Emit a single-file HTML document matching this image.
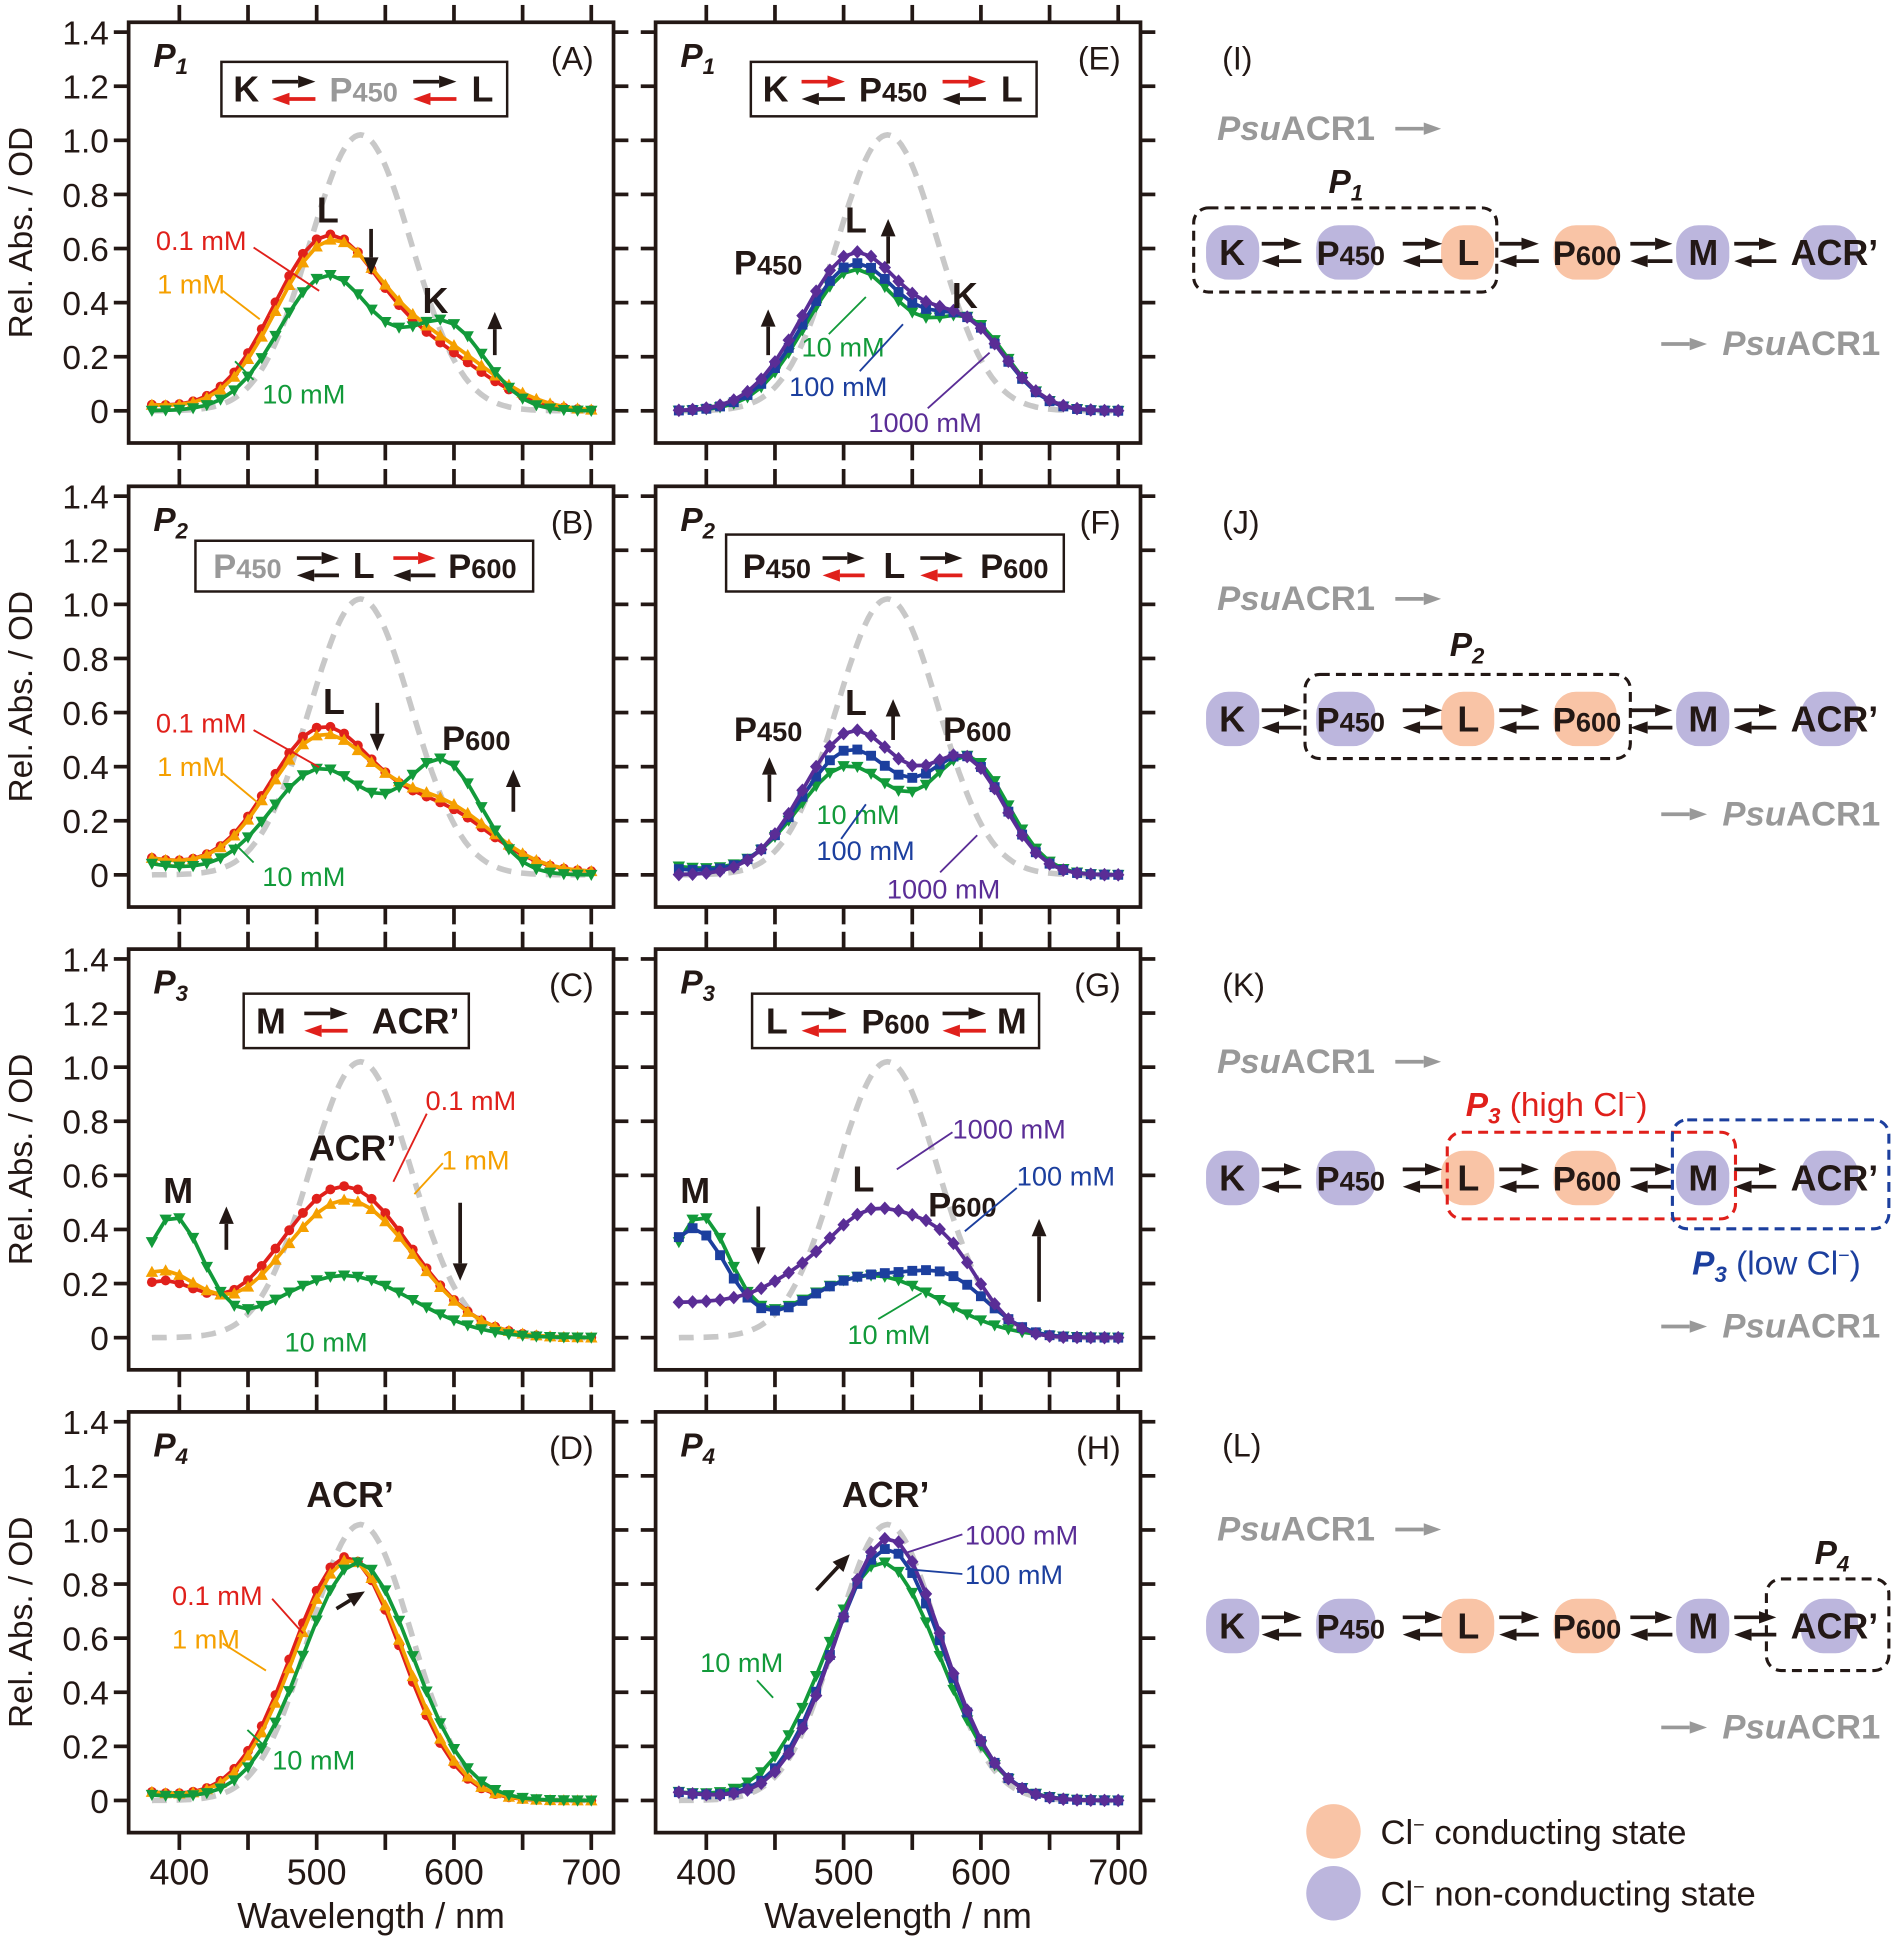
<!DOCTYPE html>
<html><head><meta charset="utf-8">
<style>
html,body{margin:0;padding:0;background:#fff;}
svg{display:block;font-family:"Liberation Sans",Arial,sans-serif;}
</style></head>
<body>
<svg id="s" xmlns="http://www.w3.org/2000/svg" width="1900" height="1944" viewBox="0 0 1536 1571" preserveAspectRatio="none"></svg>
<script>
const S=document.getElementById('s');let out='';
const C={r:'#e0201b',o:'#f5a000',g:'#129a3a',b:'#1c3f9e',p:'#5a2d96',gr:'#c8c8c8'};
function g(a,m,s,w){return a*Math.exp(-((w-m)*(w-m))/(2*s*s));}
function panel(px,py){
 const xm=w=>px+41+(w-400)*1.11, ym=v=>py+314-v*218.6;
 out+=`<rect x="${px}" y="${py}" width="392" height="340" fill="none" stroke="#231815" stroke-width="3"/>`;
 for(let w=400;w<=700;w+=50){const x=xm(w);out+=`<line x1="${x}" y1="${py-14}" x2="${x}" y2="${py}" stroke="#231815" stroke-width="3"/><line x1="${x}" y1="${py+340}" x2="${x}" y2="${py+354}" stroke="#231815" stroke-width="3"/>`;}
 for(let v=0;v<=1.41;v+=0.2){const y=ym(v);out+=`<line x1="${px-12}" y1="${y}" x2="${px}" y2="${y}" stroke="#231815" stroke-width="3"/><line x1="${px+392}" y1="${y}" x2="${px+404}" y2="${y}" stroke="#231815" stroke-width="3"/>`;
  if(px<200)out+=`<text x="88" y="${y+10}" font-size="27" text-anchor="end" fill="#231815">${v<0.01?'0':v.toFixed(1)}</text>`;}
 if(px<200)out+=`<text transform="translate(26,${py+170}) rotate(-90)" font-size="27" text-anchor="middle" fill="#231815">Rel. Abs. / OD</text>`;
 return {xm,ym};
}
function series(P,f,col,mk,dash){
 let d='',m='';
 if(dash){for(let w=380;w<=700;w+=2){d+=(w==380?'M':'L')+P.xm(w).toFixed(1)+','+P.ym(f(w)).toFixed(1);}
  out+=`<path d="${d}" fill="none" stroke="${C.gr}" stroke-width="4.5" stroke-dasharray="12,8"/>`;return;}
 for(let w=380;w<=700;w+=10){const x=P.xm(w),y=P.ym(f(w));d+=(w==380?'M':'L')+x.toFixed(1)+','+y.toFixed(1);
  if(mk=='c')m+=`<circle cx="${x}" cy="${y}" r="4"/>`;
  else if(mk=='u')m+=`<polygon points="${x},${y-5} ${x-5},${y+4} ${x+5},${y+4}"/>`;
  else if(mk=='d')m+=`<polygon points="${x},${y+5} ${x-5},${y-4} ${x+5},${y-4}"/>`;
  else if(mk=='s')m+=`<rect x="${x-4}" y="${y-4}" width="8" height="8"/>`;
  else m+=`<polygon points="${x},${y-5.5} ${x+5},${y} ${x},${y+5.5} ${x-5},${y}"/>`;}
 out+=`<path d="${d}" fill="none" stroke="${col}" stroke-width="3"/><g fill="${col}">${m}</g>`;
}
const ref=w=>g(1.02,532,37,w);
function t(x,y,s,sz,col,extra){out+=`<text x="${x}" y="${y}" font-size="${sz||24}" fill="${col||'#231815'}" ${extra||''}>${s}</text>`;}
function arr(x1,y1,x2,y2,col,hw){col=col||'#231815';hw=hw||6;const a=Math.atan2(y2-y1,x2-x1),L=14;
 const bx=x2-L*Math.cos(a),by=y2-L*Math.sin(a);
 out+=`<line x1="${x1}" y1="${y1}" x2="${bx}" y2="${by}" stroke="${col}" stroke-width="3"/><polygon fill="${col}" points="${x2},${y2} ${bx+hw*Math.sin(a)},${by-hw*Math.cos(a)} ${bx-hw*Math.sin(a)},${by+hw*Math.cos(a)}"/>`;}
function dbl(x1,x2,y,ct,cb){arr(x1,y-7,x2,y-7,ct,5);arr(x2,y+7,x1,y+7,cb,5);}
function lead(x1,y1,x2,y2,col){out+=`<line x1="${x1}" y1="${y1}" x2="${x2}" y2="${y2}" stroke="${col}" stroke-width="1.5"/>`;}
function pl(x,y,col,sub){t(x,y,`<tspan font-weight="bold" font-style="italic">P</tspan><tspan font-size="18" font-weight="bold" font-style="italic" dy="6">${sub}</tspan>`,27,col);}
function Pn(x,y,n,col){return `<text x="${x}" y="${y}" font-size="28" font-weight="bold" fill="${col||'#231815'}" text-anchor="middle">P<tspan font-size="22">${n}</tspan></text>`;}
const cols=[104,530],rows=[18,393,767,1141],pan=['ABCD','EFGH'];
const Ps=[];
for(let c=0;c<2;c++)for(let r=0;r<4;r++){const P=panel(cols[c],rows[r]);Ps.push(P);
 series(P,ref,0,0,true);
 pl(cols[c]+20,rows[r]+36,'#231815',r+1);
 t(cols[c]+376,rows[r]+38,`(${pan[c][r]})`,26,'#231815','text-anchor="end"');}
const A=Ps[0],B=Ps[1],Cc=Ps[2],D=Ps[3],E=Ps[4],F=Ps[5],G=Ps[6],H=Ps[7];
const base=(w,a)=>a*Math.exp(-(w-380)/40);
series(A,w=>g(0.62,506,38,w)+g(0.2,585,40,w)+base(w,0.02),C.r,'c');
series(A,w=>g(0.6,508,38,w)+g(0.22,588,40,w)+base(w,0.02),C.o,'u');
series(A,w=>g(0.5,508,35,w)+g(0.31,595,28,w),C.g,'d');
series(E,w=>g(0.52,508,36,w)+g(0.31,592,28,w),C.g,'d');
series(E,w=>g(0.54,508,37,w)+g(0.3,590,29,w),C.b,'s');
series(E,w=>g(0.58,508,38,w)+g(0.29,590,30,w),C.p,'x');
series(B,w=>g(0.52,503,38,w)+g(0.22,590,38,w)+base(w,0.05)+0.01,C.r,'c');
series(B,w=>g(0.49,503,38,w)+g(0.24,590,38,w)+base(w,0.05)+0.01,C.o,'u');
series(B,w=>g(0.39,503,36,w)+g(0.41,592,28,w)+base(w,0.04),C.g,'d');
series(F,w=>g(0.4,503,36,w)+g(0.42,592,28,w)+base(w,0.03),C.g,'d');
series(F,w=>g(0.46,505,36,w)+g(0.41,590,28,w)+base(w,0.02),C.b,'s');
series(F,w=>g(0.53,507,36,w)+g(0.4,590,28,w),C.p,'x');
const M=w=>g(0.44,395,22,w);
series(Cc,w=>g(0.56,520,48,w)+g(0.2,385,30,w),C.r,'c');
series(Cc,w=>g(0.51,522,48,w)+g(0.24,385,30,w),C.o,'u');
series(Cc,w=>g(0.23,520,50,w)+M(w),C.g,'d');
series(G,w=>g(0.23,520,50,w)+M(w),C.g,'d');
series(G,w=>g(0.22,515,45,w)+g(0.15,580,28,w)+g(0.4,390,25,w),C.b,'s');
series(G,w=>0.13/(1+Math.exp((w-470)/12))+g(0.46,520,40,w)+g(0.2,578,25,w),C.p,'x');
series(D,w=>g(0.9,522,40,w)+base(w,0.03),C.r,'c');
series(D,w=>g(0.89,524,40,w)+base(w,0.03),C.o,'u');
series(D,w=>g(0.88,530,40,w)+base(w,0.02),C.g,'d');
series(H,w=>g(0.88,528,42,w)+base(w,0.03),C.g,'d');
series(H,w=>g(0.93,532,40,w)+base(w,0.03),C.b,'s');
series(H,w=>g(0.97,533,39,w)+base(w,0.03),C.p,'x');
function box(x,y,w,h){out+=`<rect x="${x}" y="${y}" width="${w}" height="${h}" fill="#fff" stroke="#231815" stroke-width="2"/>`;}
function bt(x,y,s,col){out+=`<text x="${x}" y="${y}" font-size="29" font-weight="bold" fill="${col||'#231815'}" text-anchor="middle">${s}</text>`;}
const P450=(x,y,c)=>out+=Pn(x,y,450,c);const P600=(x,y,c)=>out+=Pn(x,y,600,c);
box(179,50,231,44);bt(199,82,'K');dbl(220,255,73,'#231815',C.r);P450(294,82,'#999');dbl(334,369,73,'#231815',C.r);bt(390,82,'L');
box(607,50,231,44);bt(627,82,'K');dbl(648,683,73,C.r,'#231815');P450(722,82);dbl(762,797,73,C.r,'#231815');bt(818,82,'L');
box(158,437,273,41);P450(200,467,'#999');dbl(240,274,458,'#231815','#231815');bt(294,467,'L');dbl(318,352,458,C.r,'#231815');P600(390,467);
box(587,432,273,46);P450(628,467);dbl(665,699,458,'#231815',C.r);bt(723,467,'L');dbl(744,778,458,'#231815',C.r);P600(820,467);
box(197,803,182,44);bt(219,835,'M');dbl(246,281,826,'#231815',C.r);bt(336,835,"ACR’");
box(608,803,232,44);bt(628,835,'L');dbl(648,684,826,'#231815',C.r);P600(724,835);dbl(762,797,826,'#231815',C.r);bt(818,835,'M');
bt(265,180,'L');arr(300,185,300,222);bt(352,253,'K');arr(400,287,400,252);
t(126,202,'0.1 mM',22,C.r);lead(205,200,258,235,C.r);t(127,237,'1 mM',22,C.o);lead(180,235,210,258,C.o);t(212,326,'10 mM',22,C.g);lead(205,307,190,292,C.g);
P450(621,222);arr(621,287,621,250);bt(692,188,'L');arr(718,213,718,177);bt(780,249,'K');
t(648,288,'10 mM',22,C.g);lead(670,270,700,240,C.g);t(638,320,'100 mM',22,C.b);lead(695,300,730,262,C.b);t(702,349,'1000 mM',22,C.p);lead(750,330,800,285,C.p);
bt(270,577,'L');arr(305,568,305,607);P600(385,606);arr(415,656,415,622);
t(126,592,'0.1 mM',22,C.r);lead(205,590,258,620,C.r);t(127,627,'1 mM',22,C.o);lead(180,625,210,650,C.o);t(212,716,'10 mM',22,C.g);lead(205,697,190,682,C.g);
P450(621,599);arr(622,648,622,612);bt(692,578,'L');arr(722,598,722,565);P600(790,599);
t(660,666,'10 mM',22,C.g);t(660,695,'100 mM',22,C.b);lead(680,678,700,650,C.b);t(717,726,'1000 mM',22,C.p);lead(760,705,790,675,C.p);
bt(144,972,'M');arr(183,1010,183,975);bt(285,938,"ACR’");arr(372,972,372,1035);
t(344,897,'0.1 mM',22,C.r);lead(345,900,318,955,C.r);t(357,945,'1 mM',22,C.o);lead(358,940,335,965,C.o);t(230,1092,'10 mM',22,C.g);
bt(562,972,'M');arr(613,975,613,1022);bt(698,963,'L');P600(778,983);arr(840,1052,840,985);
t(770,920,'1000 mM',22,C.p);lead(770,915,725,945,C.p);t(822,958,'100 mM',22,C.b);lead(822,960,780,995,C.b);t(685,1086,'10 mM',22,C.g);lead(710,1066,745,1045,C.g);
bt(283,1218,"ACR’");arr(272,1300,295,1286);
t(139,1297,'0.1 mM',22,C.r);lead(220,1292,245,1320,C.r);t(139,1332,'1 mM',22,C.o);lead(180,1328,215,1350,C.o);t(220,1430,'10 mM',22,C.g);lead(215,1412,200,1398,C.g);
bt(716,1218,"ACR’");arr(660,1285,687,1256);
t(780,1248,'1000 mM',22,C.p);lead(732,1255,778,1240,C.p);t(780,1280,'100 mM',22,C.b);lead(732,1268,778,1272,C.b);t(566,1351,'10 mM',22,C.g);lead(612,1358,625,1372,C.g);
for(const c of cols){for(let w=400;w<=700;w+=100)t(c+41+(w-400)*1.11,1523,w,29,'#231815','text-anchor="middle"');
 t(c+196,1558,'Wavelength / nm',29,'#231815','text-anchor="middle"');}
const PUR='#bcb6dd',ORG='#f9c4a6';
function pill(x1,x2,y,col){out+=`<rect x="${x1}" y="${y-22}" width="${x2-x1}" height="44" rx="18" fill="${col}"/>`;}
function scheme(y){
 pill(975,1018,y,PUR);pill(1064,1112,y,PUR);pill(1165,1208,y,ORG);pill(1256,1307,y,ORG);pill(1355,1398,y,PUR);pill(1456,1502,y,PUR);
 bt(996,y+10,'K');dbl(1020,1052,y,'#231815','#231815');out+=Pn(1092,y+10,450);
 dbl(1134,1166,y,'#231815','#231815');bt(1187,y+10,'L');dbl(1212,1244,y,'#231815','#231815');out+=Pn(1283,y+10,600);
 dbl(1318,1352,y,'#231815','#231815');bt(1377,y+10,'M');dbl(1402,1436,y,'#231815','#231815');bt(1483,y+10,"ACR’");}
function psu(y1,y2){out+=`<text x="984" y="${y1}" font-size="28" font-weight="bold" fill="#999"><tspan font-style="italic">Psu</tspan>ACR1</text>`;arr(1128,y1-9,1165,y1-9,'#999',5);
 arr(1343,y2-9,1380,y2-9,'#999',5);out+=`<text x="1520" y="${y2}" font-size="28" font-weight="bold" fill="#999" text-anchor="end"><tspan font-style="italic">Psu</tspan>ACR1</text>`;}
function dbox(x,y,w,h,col){out+=`<rect x="${x}" y="${y}" width="${w}" height="${h}" rx="12" fill="none" stroke="${col}" stroke-width="2.5" stroke-dasharray="8,5"/>`;}
t(988,56,'(I)',26);psu(113,287);pl(1074,156,'#231815',1);dbox(965,168,245,68,'#231815');scheme(204);
t(988,431,'(J)',26);psu(493,667);pl(1172,530,'#231815',2);dbox(1055,545,263,68,'#231815');scheme(581);
t(988,805,'(K)',26);psu(867,1081);scheme(952);dbox(1170,915,233,70,C.r);dbox(1352,905,175,88,C.b);
t(1185,902,'<tspan font-weight="bold" font-style="italic">P</tspan><tspan font-size="18" font-weight="bold" font-style="italic" dy="6">3</tspan><tspan dy="-6"> (high Cl</tspan><tspan font-size="16" dy="-10">−</tspan><tspan dy="10">)</tspan>',27,C.r);
t(1368,1030,'<tspan font-weight="bold" font-style="italic">P</tspan><tspan font-size="18" font-weight="bold" font-style="italic" dy="6">3</tspan><tspan dy="-6"> (low Cl</tspan><tspan font-size="16" dy="-10">−</tspan><tspan dy="10">)</tspan>',27,C.b);
t(988,1177,'(L)',26);psu(1245,1405);pl(1467,1264,'#231815',4);scheme(1314);dbox(1428,1276,99,74,'#231815');
out+=`<circle cx="1078" cy="1480" r="22" fill="${ORG}"/><circle cx="1078" cy="1530" r="22" fill="${PUR}"/>`;
t(1116,1490,'Cl<tspan font-size="16" dy="-10">−</tspan><tspan dy="10"> conducting state</tspan>',28);
t(1116,1540,'Cl<tspan font-size="16" dy="-10">−</tspan><tspan dy="10"> non-conducting state</tspan>',28);
S.innerHTML=out;
</script>
</body></html>
